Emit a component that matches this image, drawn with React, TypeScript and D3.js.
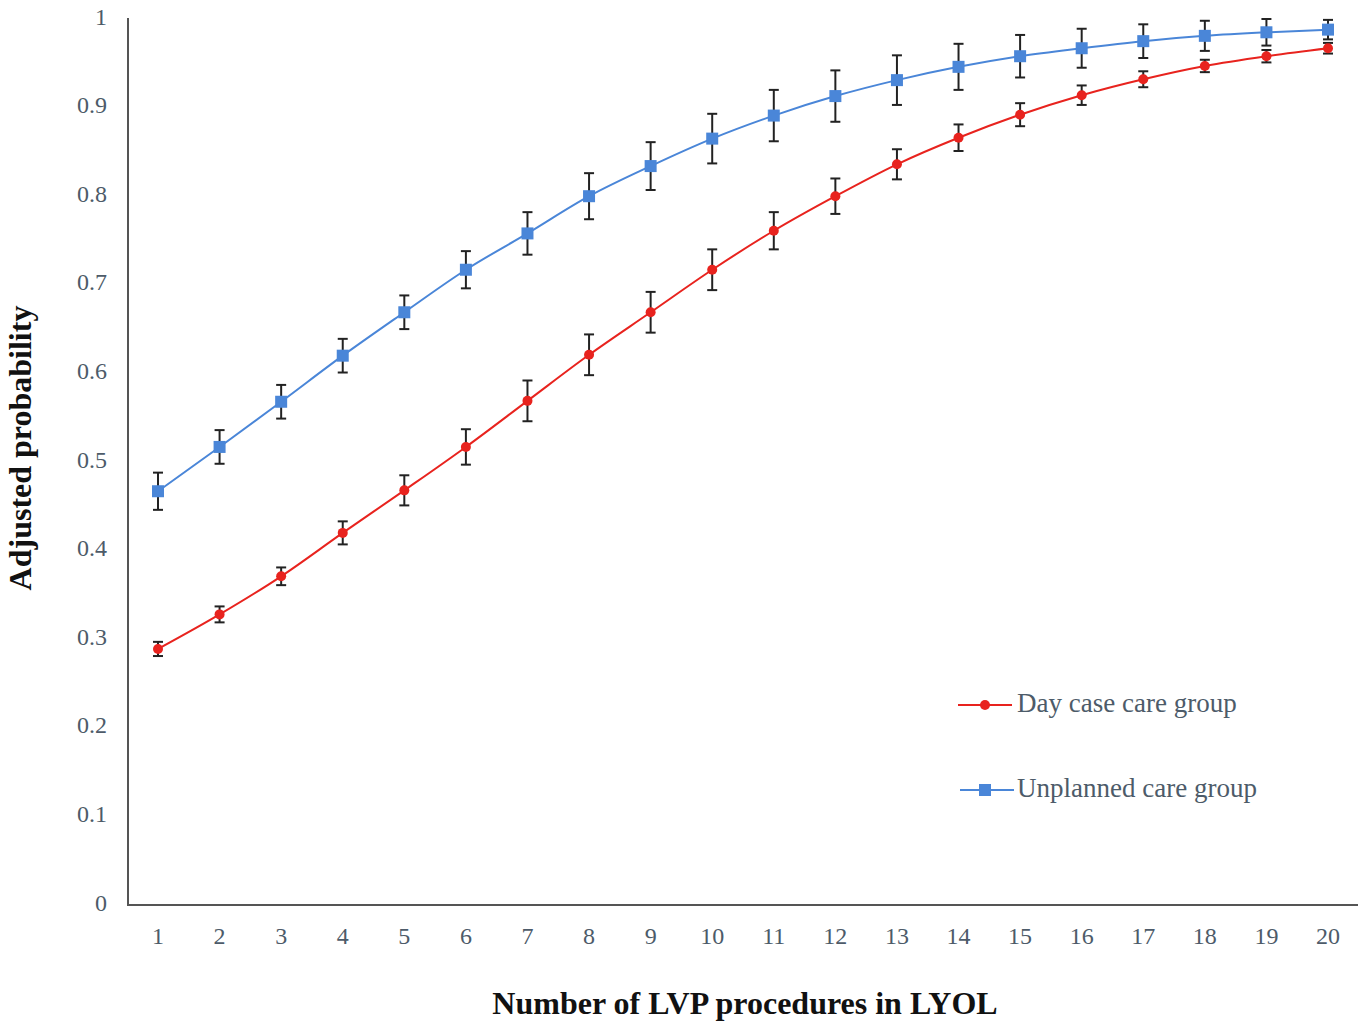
import React from "react";
import * as d3 from "d3";

const procedures = [1, 2, 3, 4, 5, 6, 7, 8, 9, 10, 11, 12, 13, 14, 15, 16, 17, 18, 19, 20];
const dayCase = [0.289, 0.328, 0.371, 0.42, 0.468, 0.517, 0.569, 0.621, 0.669, 0.717, 0.761, 0.8, 0.836, 0.866, 0.892, 0.914, 0.932, 0.947, 0.958, 0.967];
const dayCaseErr = [0.008, 0.009, 0.01, 0.013, 0.017, 0.02, 0.023, 0.023, 0.023, 0.023, 0.021, 0.02, 0.017, 0.015, 0.013, 0.011, 0.009, 0.007, 0.007, 0.006];
const unplanned = [0.467, 0.517, 0.568, 0.62, 0.669, 0.717, 0.758, 0.8, 0.834, 0.865, 0.891, 0.913, 0.931, 0.946, 0.958, 0.967, 0.975, 0.981, 0.985, 0.988];
const unplannedErr = [0.021, 0.019, 0.019, 0.019, 0.019, 0.021, 0.024, 0.026, 0.027, 0.028, 0.029, 0.029, 0.028, 0.026, 0.024, 0.022, 0.019, 0.017, 0.015, 0.011];
const yTicks = [0, 0.1, 0.2, 0.3, 0.4, 0.5, 0.6, 0.7, 0.8, 0.9, 1];

const W = 1365;
const H = 1027;
const RED = "#e8231e";
const BLUE = "#4a86d8";
const TEXT = "#4d5b69";
const FONT = "'Liberation Serif', 'Times New Roman', serif";

export default function App() {
  const x = d3.scaleLinear().domain([1, 20]).range([158, 1328]);
  const y = d3.scaleLinear().domain([0, 1]).range([905, 19]);
  const line = d3
    .line<number>()
    .x((_, i) => x(procedures[i]))
    .y((d) => y(d))
    .curve(d3.curveMonotoneX);

  const errBars = (vals: number[], errs: number[], key: string) =>
    vals.map((v, i) => {
      const cx = x(procedures[i]);
      const y1 = y(v + errs[i]);
      const y2 = y(v - errs[i]);
      return (
        <g key={key + i} stroke="#222" strokeWidth={2}>
          <line x1={cx} x2={cx} y1={y1} y2={y2} />
          <line x1={cx - 5} x2={cx + 5} y1={y1} y2={y1} />
          <line x1={cx - 5} x2={cx + 5} y1={y2} y2={y2} />
        </g>
      );
    });

  return (
    <svg width={W} height={H} style={{ position: "absolute", left: 0, top: 0, background: "#fff" }} fontFamily={FONT}>
      {/* axes */}
      <line x1={128} x2={128} y1={18} y2={906} stroke="#555" strokeWidth={2} />
      <line x1={127} x2={1358} y1={905} y2={905} stroke="#555" strokeWidth={2} />
      {yTicks.map((t) => (
        <text key={"y" + t} x={107} y={y(t)} textAnchor="end" dominantBaseline="middle" fontSize={24} fill={TEXT}>
          {t === 0 || t === 1 ? String(t) : t.toFixed(1)}
        </text>
      ))}
      {procedures.map((p) => (
        <text key={"x" + p} x={x(p)} y={938} textAnchor="middle" dominantBaseline="middle" fontSize={24} fill={TEXT}>
          {p}
        </text>
      ))}
      {/* lines */}
      <path d={line(unplanned) || ""} fill="none" stroke={BLUE} strokeWidth={2} />
      <path d={line(dayCase) || ""} fill="none" stroke={RED} strokeWidth={2} />
      {errBars(unplanned, unplannedErr, "u")}
      {errBars(dayCase, dayCaseErr, "d")}
      {unplanned.map((v, i) => (
        <rect key={"um" + i} x={x(procedures[i]) - 6} y={y(v) - 6} width={12} height={12} fill={BLUE} />
      ))}
      {dayCase.map((v, i) => (
        <circle key={"dm" + i} cx={x(procedures[i])} cy={y(v)} r={5} fill={RED} />
      ))}
      {/* legend */}
      <line x1={958} x2={1012} y1={705} y2={705} stroke={RED} strokeWidth={2} />
      <circle cx={985} cy={705} r={5} fill={RED} />
      <text x={1017} y={706} dominantBaseline="middle" fontSize={27} fill={TEXT}>
        Day case care group
      </text>
      <line x1={960} x2={1014} y1={790} y2={790} stroke={BLUE} strokeWidth={2} />
      <rect x={979} y={784} width={12} height={12} fill={BLUE} />
      <text x={1017} y={791} dominantBaseline="middle" fontSize={27} fill={TEXT}>
        Unplanned care group
      </text>
      {/* titles */}
      <text
        transform="translate(24,448) rotate(-90)"
        textAnchor="middle"
        dominantBaseline="middle"
        fontSize={32}
        fontWeight="bold"
        fill="#111"
      >
        Adjusted probability
      </text>
      <text x={745} y={1007} textAnchor="middle" dominantBaseline="middle" fontSize={32} fontWeight="bold" fill="#111">
        Number of LVP procedures in LYOL
      </text>
    </svg>
  );
}
